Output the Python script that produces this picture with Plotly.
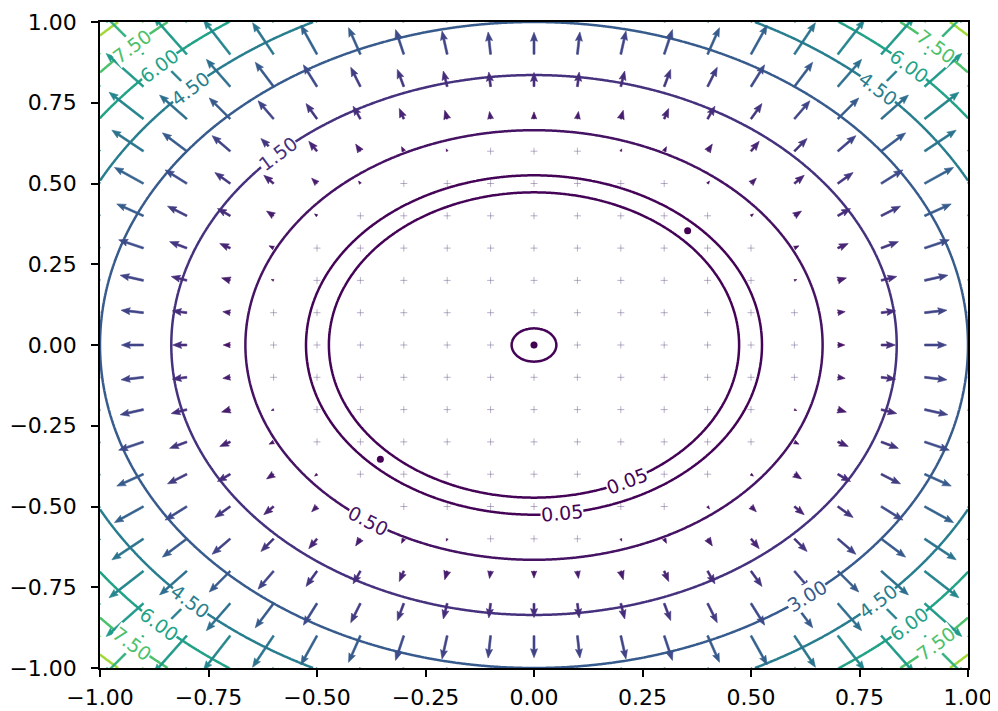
import numpy as np
import plotly.graph_objects as go
from plotly.colors import sample_colorscale

# ---------------- data ----------------
LEVELS = [0.05, 0.5, 1.5, 3.0, 4.5, 6.0, 7.5, 9.0]
COLOR_VMIN = 0.0
COLOR_VMAX = 10.5

RING_RADIUS = 0.5
OUTER_COEFFS = [1.793, 7.05, 2.729]     # f = a*d + b*d^2 + c*d^3, d = r - ring
INNER_HEIGHT = 0.245
INNER_WARP = 1.2

# critical points marked on the plot
CRIT_X = [0.0, 0.354, -0.354]
CRIT_Y = [0.0, 0.354, -0.354]

# contour labels: level, branch, angles (deg) where the label sits
LABEL_LEVELS = [0.05, 0.05, 0.5, 1.5, 3.0, 4.5, 6.0, 7.5]
LABEL_TEXTS = ["0.05", "0.05", "0.50", "1.50", "3.00", "4.50", "6.00", "7.50"]
LABEL_BRANCH = ["inner", "outer", "outer", "outer", "outer", "outer", "outer", "outer"]
LABEL_ANGLES = [[-63], [-83], [-125], [135], [-51],
                [45, 135, -135, -45], [45, 135, -135, -45], [45, 135, -135, -45]]

TICK_VALS = [-1.0, -0.75, -0.5, -0.25, 0.0, 0.25, 0.5, 0.75, 1.0]
TICK_TEXT = ["\u22121.00", "\u22120.75", "\u22120.50", "\u22120.25", "0.00",
             "0.25", "0.50", "0.75", "1.00"]

QUIVER_N = 21          # quiver grid -1..1 step 0.1
FIELD_N = 601          # contour grid

# ---------------- layout geometry / styles ----------------
# the page body adds an 8px offset, so the figure is sized to fit the window
W, H = 990, 703
ML, MR, MT, MB = 92, 30, 14, 43
SX = (W - ML - MR) / 2.0   # px per data unit (x)
SY = (H - MT - MB) / 2.0   # px per data unit (y)
GRAD_OFFSET = 3.2          # gradient magnitude drawn as zero length
ARROW_K = 3.95             # px per unit of gradient above the offset
SHAFT_W = 2.0
HEAD_W = 7.0
HEAD_L = 9.0
HEAD_AXL = 8.0
FONT = "DejaVu Sans"
N_COLOR_BINS = 40


def field(x, y):
    r = np.hypot(x, y)
    d = r - RING_RADIUS
    a, b, c = OUTER_COEFFS
    outer = a * d + b * d ** 2 + c * d ** 3
    t = np.clip(r / RING_RADIUS, 0, 1) ** INNER_WARP
    inner = INNER_HEIGHT * np.sin(np.pi * t)
    return np.where(r >= RING_RADIUS, outer, inner)


def vnorm(v):
    return float(np.clip((v - COLOR_VMIN) / (COLOR_VMAX - COLOR_VMIN), 0, 1))


def vcolor(v):
    return sample_colorscale("Viridis", [vnorm(v)])[0]


fig = go.Figure()

# ---------------- contour lines ----------------
xs = np.linspace(-1, 1, FIELD_N)
ys = np.linspace(-1, 1, FIELD_N)
XX, YY = np.meshgrid(xs, ys)
ZZ = field(XX, YY)

for lev in LEVELS:
    col = vcolor(lev)
    fig.add_trace(go.Contour(
        x=xs, y=ys, z=ZZ,
        autocontour=False,
        contours=dict(start=lev, end=lev, size=1.0, coloring="lines", showlabels=False),
        colorscale=[[0, col], [1, col]],
        line=dict(width=2.5),
        showscale=False, hoverinfo="skip", showlegend=False,
    ))

# ---------------- quiver (gradient arrows, polygons like matplotlib) ----------------
qx = np.linspace(-1, 1, QUIVER_N)
qy = np.linspace(-1, 1, QUIVER_N)
QX, QY = np.meshgrid(qx, qy)
QZ = field(QX, QY)
dZy, dZx = np.gradient(QZ, qy, qx)

bins = {}
tiny_x, tiny_y = [], []
for i in range(QUIVER_N):
    for j in range(QUIVER_N):
        u = dZx[i, j]
        v = dZy[i, j]
        g = np.hypot(u, v)
        L = ARROW_K * max(g - GRAD_OFFSET, 0.0)
        x0, y0 = QX[i, j], QY[i, j]
        if L < 1.5:
            tiny_x.append(x0)
            tiny_y.append(y0)
            continue
        s = min(1.0, L / HEAD_L)
        w, hw, hl, hal = SHAFT_W * s, HEAD_W * s, HEAD_L * s, HEAD_AXL * s
        pts = [(0, -w / 2), (L - hal, -w / 2), (L - hl, -hw / 2), (L, 0),
               (L - hl, hw / 2), (L - hal, w / 2), (0, w / 2), (0, -w / 2)]
        phi = np.arctan2(v, u)
        cph, sph = np.cos(phi), np.sin(phi)
        b = int(round(vnorm(QZ[i, j]) * (N_COLOR_BINS - 1)))
        px_list, py_list = bins.setdefault(b, ([], []))
        for p, q in pts:
            X = p * cph - q * sph
            Y = p * sph + q * cph
            px_list.append(x0 + X / SX)
            py_list.append(y0 + Y / SY)
        px_list.append(None)
        py_list.append(None)

fig.add_trace(go.Scatter(
    x=tiny_x, y=tiny_y, mode="markers",
    marker=dict(symbol="cross-thin", size=5,
                line=dict(width=1, color="rgba(100,80,130,0.45)")),
    showlegend=False, hoverinfo="skip",
))

for b in sorted(bins):
    col = sample_colorscale("Viridis", [b / (N_COLOR_BINS - 1)])[0]
    bx, by = bins[b]
    fig.add_trace(go.Scatter(
        x=bx, y=by, mode="lines", fill="toself", fillcolor=col,
        line=dict(width=0.6, color=col),
        showlegend=False, hoverinfo="skip",
    ))

# ---------------- critical points ----------------
fig.add_trace(go.Scatter(
    x=CRIT_X, y=CRIT_Y, mode="markers",
    marker=dict(size=7, color="#440154"),
    showlegend=False, hoverinfo="skip",
))

# ---------------- contour labels ----------------
annotations = []
r_out = np.linspace(RING_RADIUS, 1.6, 20001)
f_out = field(r_out, 0 * r_out)
r_in = np.linspace(0.3, RING_RADIUS, 20001)
f_in = field(r_in, 0 * r_in)
for lev, txt, br, angs in zip(LABEL_LEVELS, LABEL_TEXTS, LABEL_BRANCH, LABEL_ANGLES):
    if br == "outer":
        rr = float(np.interp(lev, f_out, r_out))
    else:
        rr = float(np.interp(lev, f_in[::-1], r_in[::-1]))
    for a in angs:
        th = np.radians(a)
        px, py = rr * np.cos(th), rr * np.sin(th)
        dxs = -np.sin(th) * SX
        dys = -np.cos(th) * SY
        ang = np.degrees(np.arctan2(dys, dxs))
        if ang > 90:
            ang -= 180
        if ang <= -90:
            ang += 180
        annotations.append(dict(
            x=px, y=py, xref="x", yref="y", text=txt, showarrow=False,
            textangle=ang, font=dict(family=FONT, size=19, color=vcolor(lev)),
            bgcolor="white", borderpad=0,
        ))

axis_common = dict(
    range=[-1, 1], showgrid=False, zeroline=False, automargin=False,
    showline=True, mirror=True, linecolor="black", linewidth=1.5,
    ticks="outside", ticklen=7, tickwidth=1.5, tickcolor="black",
    tickvals=TICK_VALS, ticktext=TICK_TEXT,
    tickfont=dict(family=FONT, size=22, color="black"),
)

fig.update_layout(
    width=W, height=H,
    margin=dict(l=ML, r=MR, t=MT, b=MB, pad=0, autoexpand=False),
    paper_bgcolor="white", plot_bgcolor="white",
    xaxis=dict(axis_common, ticklabelstandoff=2),
    yaxis=dict(axis_common, ticklabelstandoff=10),
    annotations=annotations,
    showlegend=False,
)

fig.write_html("out.html")
